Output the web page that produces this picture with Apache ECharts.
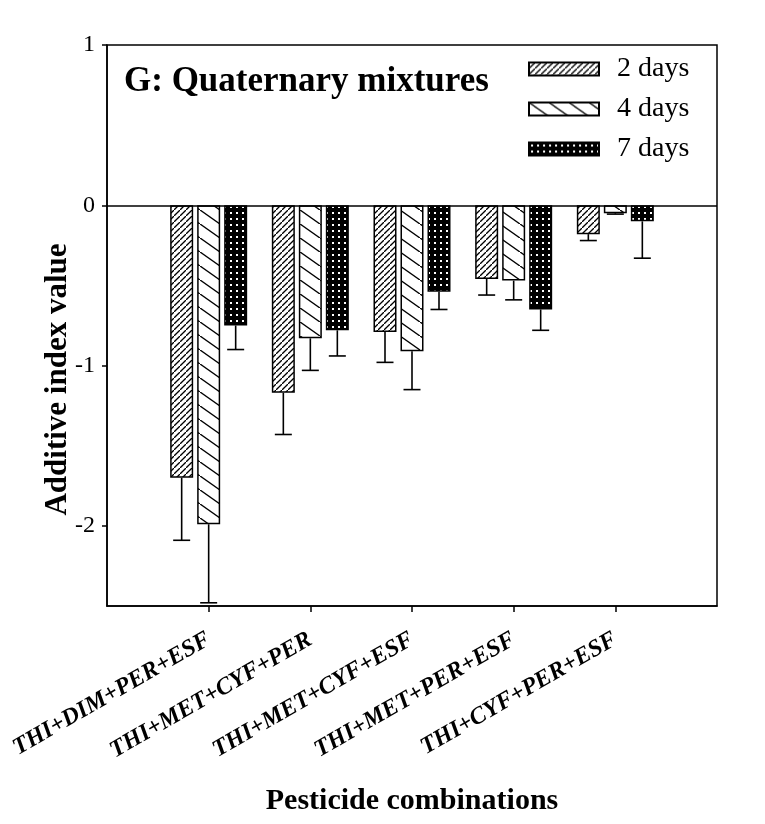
<!DOCTYPE html>
<html>
<head>
<meta charset="utf-8">
<script src="https://cdn.jsdelivr.net/npm/echarts@6/dist/echarts.min.js"></script>
<style>
html,body{margin:0;padding:0;background:#fff;}
#chart{width:765px;height:824px;}
</style>
</head>
<body>
<div id="chart"></div>
<script>
// ---- data ----
const categories = ['THI+DIM+PER+ESF', 'THI+MET+CYF+PER', 'THI+MET+CYF+ESF', 'THI+MET+PER+ESF', 'THI+CYF+PER+ESF'];
const seriesNames = ['2 days', '4 days', '7 days'];
const values2d = [-1.70, -1.17, -0.79, -0.46, -0.18];
const values4d = [-1.99, -0.83, -0.91, -0.47, -0.05];
const values7d = [-0.75, -0.78, -0.54, -0.65, -0.10];
const err2d = [0.39, 0.26, 0.19, 0.10, 0.04];
const err4d = [0.49, 0.20, 0.24, 0.12, 0.005];
const err7d = [0.15, 0.16, 0.11, 0.13, 0.23];
const yTickValues = [1, 0, -1, -2];

// ---- style ----
const FONT = '"Liberation Serif", "Times New Roman", serif';
const BAR_W = 23;
const BAR_GAP = 4;

function makeTile(w, h, bg, draw) {
  const c = document.createElement('canvas');
  c.width = w; c.height = h;
  const ctx = c.getContext('2d');
  ctx.fillStyle = bg; ctx.fillRect(0, 0, w, h);
  draw(ctx, w, h);
  return c;
}
const pat2 = makeTile(6, 6, '#fff', (ctx, w, h) => {
  ctx.strokeStyle = '#000'; ctx.lineWidth = 1.3;
  ctx.beginPath(); ctx.moveTo(-w, 2 * h); ctx.lineTo(2 * w, -h); ctx.stroke();
});
const pat4 = makeTile(20, 14, '#fff', (ctx, w, h) => {
  ctx.strokeStyle = '#000'; ctx.lineWidth = 1.4;
  ctx.beginPath(); ctx.moveTo(-w, -h); ctx.lineTo(2 * w, 2 * h); ctx.stroke();
});
const pat7 = makeTile(6, 6, '#000', (ctx) => {
  ctx.fillStyle = '#fff'; ctx.fillRect(2, 2, 2, 2);
});
const patterns = [pat2, pat4, pat7];

const valueSets = [values2d, values4d, values7d];
const errSets = [err2d, err4d, err7d];

const xData = [''].concat(categories, ['']);

const barSeries = seriesNames.map((name, si) => {
  const s = {
    name: name,
    type: 'bar',
    barWidth: BAR_W,
    barGap: (BAR_GAP / BAR_W * 100) + '%',
    data: valueSets[si].map((v, i) => [i + 1, v]),
    itemStyle: {
      color: { image: patterns[si], repeat: 'repeat' },
      borderColor: '#000',
      borderWidth: 1.5
    },
    emphasis: { disabled: true },
    z: 2
  };
  if (si === 0) {
    s.markLine = {
      silent: true,
      symbol: 'none',
      label: { show: false },
      lineStyle: { color: '#000', width: 1.5, type: 'solid' },
      data: [{ yAxis: 0 }],
      z: 5
    };
  }
  return s;
});

const errSeries = seriesNames.map((name, si) => ({
  name: name + ' error',
  type: 'custom',
  z: 3,
  silent: true,
  data: valueSets[si].map((v, i) => [i + 1, v, errSets[si][i]]),
  renderItem: function (params, api) {
    const cat = api.value(0), v = api.value(1), e = api.value(2);
    const off = (si - 1) * (BAR_W + BAR_GAP);
    const p0 = api.coord([cat, v]);
    const p1 = api.coord([cat, v - e]);
    const x = p0[0] + off;
    const cap = 8.5;
    return {
      type: 'group',
      children: [
        { type: 'line', shape: { x1: x, y1: p0[1], x2: x, y2: p1[1] }, style: { stroke: '#000', lineWidth: 1.6 } },
        { type: 'line', shape: { x1: x - cap, y1: p1[1], x2: x + cap, y2: p1[1] }, style: { stroke: '#000', lineWidth: 1.6 } }
      ]
    };
  }
}));

const chart = echarts.init(document.getElementById('chart'), null, { renderer: 'canvas' });
chart.setOption({
  animation: false,
  backgroundColor: '#fff',
  title: {
    text: 'G: Quaternary mixtures',
    left: 124,
    top: 64,
    padding: 0,
    textStyle: { fontFamily: FONT, fontWeight: 'bold', fontSize: 35, color: '#000' }
  },
  legend: {
    data: seriesNames,
    orient: 'vertical',
    left: 528,
    top: 55,
    padding: 0,
    icon: 'rect',
    itemWidth: 70,
    itemHeight: 13,
    itemGap: 12,
    selectedMode: false,
    textStyle: { fontFamily: FONT, fontSize: 28, color: '#000', lineHeight: 28, padding: [0, 0, 0, 13] }
  },
  grid: {
    left: 107, right: 48, top: 45, bottom: 218,
    containLabel: false,
    outerBoundsMode: 'none',
    show: true, borderColor: '#000', borderWidth: 1.5, backgroundColor: 'transparent'
  },
  xAxis: {
    type: 'category',
    data: xData,
    boundaryGap: false,
    name: 'Pesticide combinations',
    nameLocation: 'middle',
    nameGap: 180,
    nameMoveOverlap: false,
    nameTextStyle: { fontFamily: FONT, fontWeight: 'bold', fontSize: 30, color: '#000' },
    axisLine: { onZero: false, lineStyle: { color: '#000', width: 1.5 } },
    axisTick: { show: true, length: 6, interval: (i) => i > 0 && i < xData.length - 1, lineStyle: { color: '#000', width: 1.5 } },
    axisLabel: {
      interval: 0, rotate: 30, margin: 32,
      fontFamily: FONT, fontWeight: 'bold', fontStyle: 'italic', fontSize: 24, color: '#000'
    },
    splitLine: { show: false }
  },
  yAxis: {
    type: 'value',
    min: -2.5,
    max: 1,
    name: 'Additive index value',
    nameLocation: 'middle',
    nameGap: 34,
    nameMoveOverlap: false,
    nameRotate: 90,
    nameTextStyle: { fontFamily: FONT, fontWeight: 'bold', fontSize: 31, color: '#000', padding: [0, 108, 0, 0] },
    axisLine: { show: true, lineStyle: { color: '#000', width: 1.5 } },
    axisTick: { show: true, length: 5, customValues: yTickValues, lineStyle: { color: '#000', width: 1.5 } },
    axisLabel: { customValues: yTickValues, margin: 12, fontFamily: FONT, fontSize: 24, color: '#000' },
    splitLine: { show: false }
  },
  series: barSeries.concat(errSeries)
});
</script>
</body>
</html>
